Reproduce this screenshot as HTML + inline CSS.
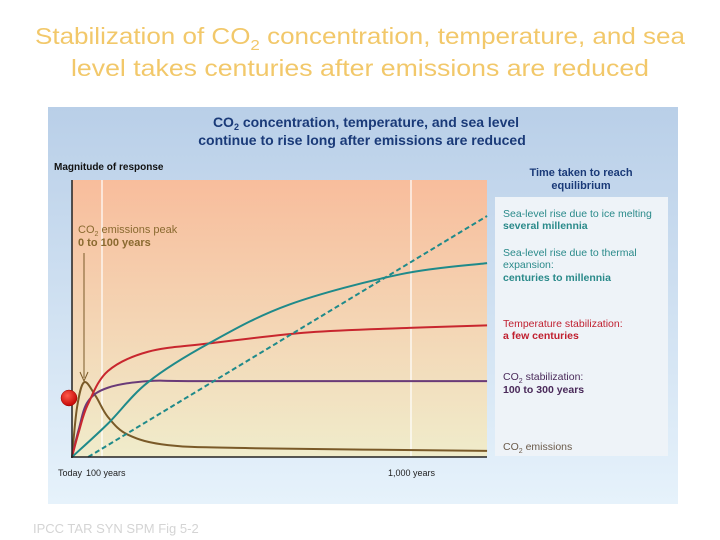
<!DOCTYPE html>
<html><head><meta charset="utf-8"><style>html,body{margin:0;padding:0;background:#fff}svg{display:block}</style></head>
<body>
<svg width="720" height="540" viewBox="0 0 720 540" xmlns="http://www.w3.org/2000/svg" font-family="Liberation Sans, sans-serif">
<defs>
<linearGradient id="panel" x1="0" y1="0" x2="0" y2="1"><stop offset="0" stop-color="#b9cfe8"/><stop offset="1" stop-color="#e6f2fb"/></linearGradient>
<linearGradient id="plot" x1="0" y1="0" x2="0" y2="1"><stop offset="0" stop-color="#f8bd9c"/><stop offset="1" stop-color="#f0eccb"/></linearGradient>
<radialGradient id="dot" cx="0.4" cy="0.35" r="0.7"><stop offset="0" stop-color="#ff5a4a"/><stop offset="1" stop-color="#c00000"/></radialGradient>
</defs>
<g fill="#f2c86a" font-size="23" text-anchor="middle">
<text x="360" y="44" textLength="650" lengthAdjust="spacingAndGlyphs">Stabilization of CO<tspan font-size="15" dy="6">2</tspan><tspan dy="-6"> concentration, temperature, and  sea</tspan></text>
<text x="360" y="76" textLength="578" lengthAdjust="spacingAndGlyphs">level takes centuries after emissions are reduced</text>
</g>
<rect x="48" y="107" width="630" height="397" fill="url(#panel)"/>
<g fill="#1a3a78" font-size="14" font-weight="bold" text-anchor="middle">
<text x="366" y="127">CO<tspan font-size="9" dy="3">2</tspan><tspan dy="-3"> concentration, temperature, and sea level</tspan></text>
<text x="362" y="145">continue to rise long after emissions are reduced</text>
</g>
<text x="54" y="170" font-size="10" font-weight="bold" fill="#111">Magnitude of response</text>
<text x="581" y="176" font-size="11" font-weight="bold" fill="#1a3a78" text-anchor="middle">Time taken to reach<tspan x="581" dy="13">equilibrium</tspan></text>
<rect x="72" y="180" width="415" height="277" fill="url(#plot)"/>
<line x1="102" y1="180" x2="102" y2="457" stroke="#fff" stroke-width="1.2"/>
<line x1="411" y1="180" x2="411" y2="457" stroke="#fff" stroke-width="1.2"/>
<g id="series"></g>
<line x1="72" y1="180" x2="72" y2="458" stroke="#222" stroke-width="1.5"/>
<line x1="71" y1="457" x2="487" y2="457" stroke="#222" stroke-width="1.5"/>
<g font-size="9" fill="#222">
<text x="58" y="476">Today</text><text x="86" y="476">100 years</text><text x="388" y="476">1,000 years</text>
</g>
<g>
<text x="78" y="233" font-size="11" fill="#8a6a30">CO<tspan font-size="7" dy="3">2</tspan><tspan dy="-3"> emissions peak</tspan></text>
<text x="78" y="246" font-size="11" font-weight="bold" fill="#8a6a30">0 to 100 years</text>
<line x1="84" y1="253" x2="84" y2="378" stroke="#7a5a28" stroke-width="1"/>
<path d="M80,372 L84,381 L88,372" fill="none" stroke="#7a5a28" stroke-width="1"/>
</g>
<circle cx="69" cy="398" r="8" fill="url(#dot)" stroke="#900" stroke-width="0.5"/>
<rect x="495" y="197" width="173" height="259" fill="#eef3f8"/>
<g font-size="10.5">
<text x="503" y="217" fill="#2a8a8a">Sea-level rise due to ice melting<tspan x="503" dy="12" font-weight="bold">several millennia</tspan></text>
<text x="503" y="256" fill="#2a8a8a">Sea-level rise due to thermal<tspan x="503" dy="12">expansion:</tspan><tspan x="503" dy="13" font-weight="bold">centuries to millennia</tspan></text>
<text x="503" y="327" fill="#c02030">Temperature stabilization:<tspan x="503" dy="12" font-weight="bold">a few centuries</tspan></text>
<text x="503" y="380" fill="#4a2a5a">CO<tspan font-size="7" dy="3">2</tspan><tspan dy="-3"> stabilization:</tspan><tspan x="503" dy="13" font-weight="bold">100 to 300 years</tspan></text>
<text x="503" y="450" fill="#6a5a4a">CO<tspan font-size="7" dy="3">2</tspan><tspan dy="-3"> emissions</tspan></text>
</g>
<text x="33" y="533" font-size="13" fill="#d4d4d4">IPCC TAR SYN SPM Fig 5-2</text>
</svg>
<script>
const iceYears=[48,1228];
const iceVals=[0,87];
const thermYears=[0,106,225,405,642,973,1228];
const thermVals=[0,12,27,41,55,66,70];
const tempYears=[0,20,47,106,225,405,701,997,1228];
const tempVals=[0,9,19,31,38,41,45,46.6,47.5];
const co2Years=[0,20,47,106,225,400,1228];
const co2Vals=[0,10,20,25,27.4,27.4,27.4];
const emYears=[0,15,36,70,106,166,284,524,1228];
const emVals=[0,18,27,22,14.5,8,4.3,3.2,2.2];
function xs(y){return 72+y*0.338;}
function ys(v){return 457-v*2.77;}
function pathFor(xa,va){
  const p=xa.map((x,i)=>[xs(x),ys(va[i])]);
  if(p.length<3)return 'M'+p.map(q=>q.join(',')).join(' L');
  let d='M'+p[0][0]+','+p[0][1];
  for(let i=0;i<p.length-1;i++){
    const p0=p[i-1]||p[i],p1=p[i],p2=p[i+1],p3=p[i+2]||p2;
    const c1=[p1[0]+(p2[0]-p0[0])/6,p1[1]+(p2[1]-p0[1])/6];
    const c2=[p2[0]-(p3[0]-p1[0])/6,p2[1]-(p3[1]-p1[1])/6];
    d+=' C'+c1+' '+c2+' '+p2;
  }
  return d;
}
const g=document.getElementById('series');
function add(name,xa,va,color,dash){
  const el=document.createElementNS('http://www.w3.org/2000/svg','path');
  el.setAttribute('d',pathFor(xa,va));
  el.setAttribute('fill','none');el.setAttribute('stroke',color);el.setAttribute('stroke-width','2');
  if(dash)el.setAttribute('stroke-dasharray',dash);
  
  
  g.appendChild(el);
}
add('co2-emissions-line',emYears,emVals,'#7a5a28');
add('co2-stabilization-line',co2Years,co2Vals,'#6a3a78');
add('temperature-line',tempYears,tempVals,'#c8262e');
add('thermal-expansion-line',thermYears,thermVals,'#1f8a8a');
add('ice-melting-line',iceYears,iceVals,'#1f8a8a','5,3');
</script>
</body></html>
